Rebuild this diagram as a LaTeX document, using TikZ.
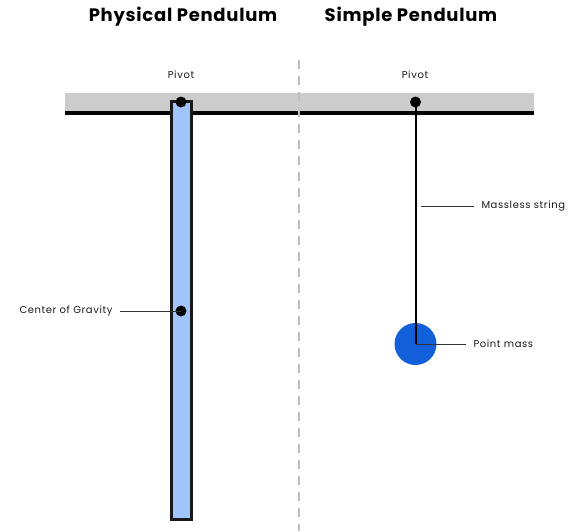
\documentclass[tikz,border=0pt]{standalone}
\usepackage{fontspec}
\setmainfont{Poppins}
\newfontfamily\titlefont[LetterSpace=4]{Poppins}
\newfontfamily\labelfont[LetterSpace=6]{Poppins}
\begin{document}
\begin{tikzpicture}[x=1pt,y=-1pt,
  title/.style={font=\titlefont\bfseries\fontsize{18}{20}\selectfont, text=black},
  lbl/.style={font=\labelfont\fontsize{10}{12}\selectfont, text=black!90},
  leader/.style={draw=black!80, line width=0.8pt},
  pivotdot/.style={circle, fill=black, inner sep=0pt, minimum size=11pt},
]
\useasboundingbox (0,0) rectangle (579,531);
% support beam
\fill[black!20] (65,93) rectangle (534,112);
\draw[line width=3.5pt] (65,113) -- (534,113);
% divider
\draw[black!25, line width=2pt, dash pattern=on 9pt off 7pt] (299,60) -- (299,531);
% titles
\node[title] (t1) at (183,17) {Physical Pendulum};
\node[title] (t2) at (411,17) {Simple Pendulum};
% physical pendulum rod
\node[draw=black!90, line width=3pt, fill={rgb,255:red,160;green,197;blue,252},
      minimum width=20pt, minimum height=418pt, inner sep=0pt] (rod) at (181,310) {};
\node[pivotdot] (p1) at (181,102) {};
\node[pivotdot] (cg) at (181,311) {};
\node[lbl] (pl1) at (181,75) {Pivot};
\node[lbl, anchor=east] (cgl) at (116,311) {Center of Gravity};
\draw[leader] ([xshift=4pt]cgl.east) -- (cg.center);
% simple pendulum
\node[pivotdot] (p2) at (415.5,102) {};
\node[lbl] (pl2) at (415,75) {Pivot};
\node[circle, fill={rgb,255:red,18;green,96;blue,217}, inner sep=0pt, minimum size=42pt] (m) at (415.5,344) {};
\draw[line width=2pt] (p2.center) -- (m.center);
\coordinate (s1) at (421,206);
\node[lbl, anchor=west] (sl) at (478,206) {Massless string};
\draw[leader] (s1) -- ([xshift=-4pt]sl.west);
\node[lbl, anchor=west] (ml) at (470,344) {Point mass};
\draw[leader] (m.center) -- ([xshift=-4pt]ml.west);
\end{tikzpicture}
\end{document}
